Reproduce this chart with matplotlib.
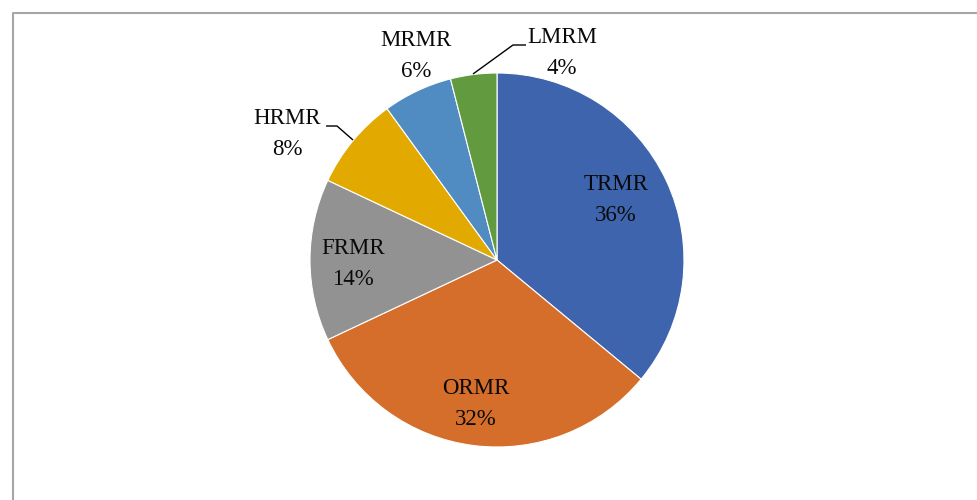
import matplotlib
matplotlib.use("Agg")
import matplotlib.pyplot as plt
from matplotlib.lines import Line2D

# ---- data ----
categories = ["TRMR", "ORMR", "FRMR", "HRMR", "MRMR", "LMRM"]
percents = [36, 32, 14, 8, 6, 4]
colors = ["#3D64AD", "#D46E2A", "#929292", "#E2A900", "#508BC1", "#629A3F"]

# ---- layout (pixels) ----
W, H = 978, 500
center = (497, H - 260)
radius = 187
# label centres (x, y from top) for each category
label_pos = [(616, 200), (476, 404), (353, 264), (287, 134), (416, 56), (562, 53)]
# leader lines for outside labels: index -> list of points (x, y from top)
leaders = {
    3: [(326, 126), (337, 126), (353, 140)],
    5: [(526, 45), (513, 45), (473, 74)],
}

plt.rcParams['font.family'] = ['Liberation Serif', 'DejaVu Serif']

fig = plt.figure(figsize=(W / 100, H / 100), dpi=100)
ax = fig.add_axes([0, 0, 1, 1])
ax.pie(percents, colors=colors, startangle=90, counterclock=False,
       center=center, radius=radius,
       wedgeprops=dict(edgecolor="white", linewidth=0.8))
ax.set_xlim(0, W)
ax.set_ylim(0, H)
ax.set_aspect('equal')
ax.axis('off')

for i, (cat, p) in enumerate(zip(categories, percents)):
    x, y = label_pos[i]
    ax.text(x, H - y, f"{cat}\n{p}%", ha='center', va='center',
            fontsize=16.5, color='#0A0A0A', linespacing=1.62)

for i, pts in leaders.items():
    xs = [p[0] for p in pts]
    ys = [H - p[1] for p in pts]
    ax.plot(xs, ys, color='black', lw=1.0, solid_capstyle='butt')

# chart border (top and left visible)
ax.add_line(Line2D([13, 13, W], [0, H - 12.5, H - 12.5], color='#A6A6A6', lw=1.5))

fig.savefig("out.png", dpi=100)
